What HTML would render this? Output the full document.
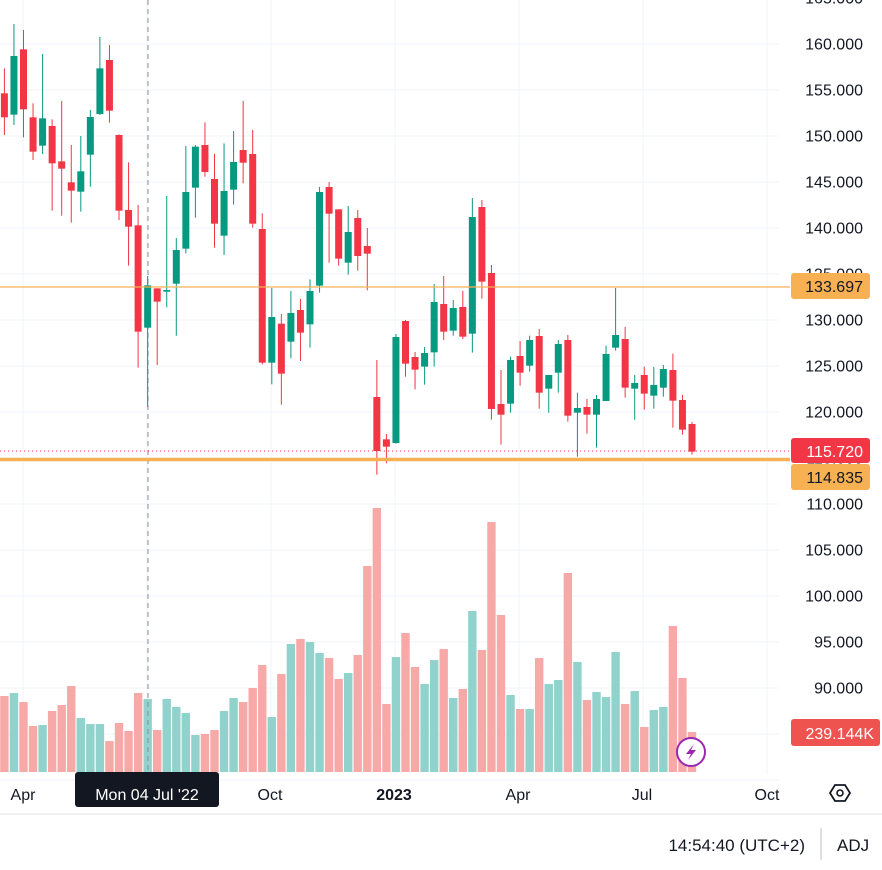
<!DOCTYPE html>
<html><head><meta charset="utf-8"><style>
html,body{margin:0;padding:0;background:#fff;width:882px;height:870px;overflow:hidden;font-family:"Liberation Sans","DejaVu Sans",sans-serif}
</style></head><body>
<svg id="s" width="882" height="870" xmlns="http://www.w3.org/2000/svg" style="position:absolute;left:0;top:0">
<g id="grid" stroke="#f0f3fa" stroke-width="1"></g>
<g id="vol"></g>
<line x1="148" y1="0" x2="148" y2="775" stroke="#8a8d96" stroke-width="1" stroke-dasharray="5,4"/>
<g id="cdl"></g>
<line x1="0" y1="287" x2="790" y2="287" stroke="#f7b153" stroke-width="1.2"/>
<line x1="0" y1="451" x2="790" y2="451" stroke="#f23645" stroke-width="1" stroke-dasharray="1,3"/>
<line x1="0" y1="459.5" x2="790" y2="459.5" stroke="#f7b153" stroke-width="3.5"/>
<g id="lbl" font-size="16" fill="#131722" text-anchor="end"></g>
<rect x="791" y="273" width="79" height="26" rx="3" fill="#f7b153"/>
<text x="863" y="292" font-size="16" fill="#131722" text-anchor="end">133.697</text>
<rect x="791" y="438" width="79" height="25" rx="3" fill="#f23645"/>
<text x="863" y="457" font-size="16" fill="#fff" text-anchor="end">115.720</text>
<rect x="791" y="464" width="79" height="26" rx="3" fill="#f7b153"/>
<text x="863" y="483" font-size="16" fill="#131722" text-anchor="end">114.835</text>
<rect x="791" y="719" width="89" height="27" rx="3" fill="#ef5350"/>
<text x="874" y="739" font-size="16" fill="#fff" text-anchor="end">239.144K</text>
<circle cx="691" cy="752" r="14" fill="#fff" stroke="#9c27b0" stroke-width="2"/>
<path d="M694 744 L686 754 L691 754 L688 760 L696 750 L691 750 Z" fill="#9c27b0"/>
<g font-size="16" fill="#131722" text-anchor="middle">
<text x="23" y="800">Apr</text>
<text x="270" y="800">Oct</text>
<text x="394" y="800" font-weight="bold">2023</text>
<text x="518" y="800">Apr</text>
<text x="642" y="800">Jul</text>
<text x="767" y="800">Oct</text>
</g>
<rect x="75" y="772" width="144" height="35" rx="3" fill="#131722"/>
<text x="147" y="800" font-size="16" fill="#fff" text-anchor="middle">Mon 04 Jul '22</text>
<polygon points="830,793 835,785 845,785 850,793 845,801 835,801" fill="none" stroke="#131722" stroke-width="1.8"/>
<circle cx="840" cy="793" r="3" fill="none" stroke="#131722" stroke-width="1.6"/>
<line x1="0" y1="814" x2="882" y2="814" stroke="#e0e3eb" stroke-width="1"/>
<text x="805" y="851" font-size="17" fill="#131722" text-anchor="end">14:54:40 (UTC+2)</text>
<line x1="821" y1="828" x2="821" y2="860" stroke="#d1d4dc" stroke-width="1.5"/>
<text x="837" y="851" font-size="17" fill="#131722">ADJ</text>
</svg>
<script>
var NS="http://www.w3.org/2000/svg";
function el(p,t,a){var e=document.createElementNS(NS,t);for(var k in a)e.setAttribute(k,a[k]);document.getElementById(p).appendChild(e);return e;}
for(var p=165;p>=80;p-=5){var y=44+(160-p)*9.2;el("grid","line",{x1:0,y1:y,x2:778,y2:y});}
[23,147,271,395,519,643,767].forEach(function(x){el("grid","line",{x1:x,y1:0,x2:x,y2:775});});
for(var p=165;p>=90;p-=5){var y=44+(160-p)*9.2;var t=el("lbl","text",{x:863,y:y+5.5});t.textContent=p.toFixed(3);}
var A=[["r",280,352,205,405],["g",168,344,72,375],["r",148,328,90,412],["r",352,455,310,480],["g",355,437,162,462],["r",378,490,358,632],["r",484,506,303,647],["r",547,572,435,668],["g",514,575,408,635],["g",351,464,330,560],["g",205,342,111,345],["r",180,332,135,368],["r",405,632,403,660],["r",630,680,487,797],["r",676,995,615,1103],["g",856,983,828,1220],["r",865,905,865,1095],["g",870,875,588,922],["g",750,851,714,1007],["g",576,746,438,760],["g",440,563,435,653],["r",435,516,367,530],["r",537,671,462,743],["g",573,707,430,765],["g",486,569,393,614],["r",450,488,303,550],["r",462,671,390,683],["r",687,1088,640,1093],["g",951,1088,864,1153],["r",971,1121,942,1214],["g",939,1025,873,1075],["r",930,998,897,1083],["g",873,973,838,1043],["g",576,857,561,878],["r",561,641,546,788],["r",628,776,628,797],["g",696,788,618,824],["r",654,768,630,812],["r",738,761,684,871],["r",1191,1353,1080,1424],["r",1318,1340,1302,1390],["g",1011,1329,1002,1331],["r",963,1091,960,1130],["r",1071,1109,1056,1168],["g",1059,1100,1041,1154],["g",906,1057,852,1100]];
var B=[["r",372,455,288,480],["g",384,452,360,467],["r",381,470,333,477],["g",111,461,54,518],["r",81,305,60,356],["r",279,687,255,719],["r",672,704,570,794],["g",540,671,530,698],["r",528,578,483,617],["g",480,557,467,575],["r",468,638,447,686],["g",585,626,585,698],["g",492,578,480,638],["r",480,707,465,725],["g",684,698,638,830],["r",681,704,657,761],["g",657,704,645,803],["g",522,663,497,663],["g",465,503,324,512],["r",477,623,441,653],["g",609,626,585,719],["r",585,641,560,689],["g",615,647,561,686],["g",567,623,555,650],["r",570,662,521,743],["r",660,749,645,764],["r",732,815,726,824]];
var C=[];A.forEach(function(a){C.push([a[0],a[1]/3,a[2]/3,a[3]/3,a[4]/3]);});
B.forEach(function(a){C.push([a[0],a[1]/3+180,a[2]/3+180,a[3]/3+180,a[4]/3+180]);});
var V=[618,609,636,708,705,663,645,588,684,702,702,753,699,723,609,627,720,627,651,669,735,732,720,663,624,636,594,525,681,552,462,447,456,489,504,567,549,495,228,54,642,501,429,531,582,510,477,624,597,363,480,96,375,615,657,657,504,582,570,249,516,630,606,621,486,642,603,711,660,651,408,564,726];
C.forEach(function(c,i){
 var x=4.4+9.55*i,col=c[0]=="g"?"#089981":"#f23645",vc=c[0]=="g"?"#92d2cc":"#f7a9a7";
 var vt=490+V[i]/3;el("vol","rect",{x:x-4.2,y:vt,width:8.4,height:772-vt,fill:vc});
 el("cdl","line",{x1:x,y1:c[3],x2:x,y2:c[4],stroke:col,"stroke-width":1});
 el("cdl","rect",{x:x-3.5,y:c[1],width:7,height:Math.max(1.2,c[2]-c[1]),fill:col});
});
</script>
</body></html>
